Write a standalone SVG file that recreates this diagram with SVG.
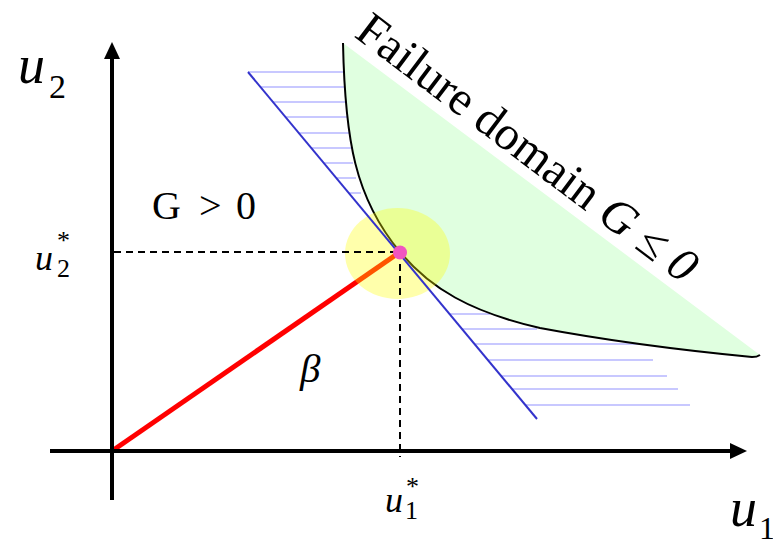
<svg xmlns="http://www.w3.org/2000/svg" width="773" height="541" viewBox="0 0 773 541">
<style>
.t{font-family:'Liberation Serif','Times New Roman',serif;fill:#000}
.i{font-style:italic}
.hatch{stroke:#c8c8ff;stroke-width:2}
.dash{stroke:#000;stroke-width:2;stroke-dasharray:7 5;fill:none}
.axis{stroke:#000;stroke-width:4}
</style>
<rect width="773" height="541" fill="#fff"/>
<g id="failure-domain">
<path d="M343,43 C345,140 355,198 400,252 C430,288 470,312 540,328 C620,343 700,352 752,357 Q757,357 760,355 Z" fill="#e0ffe0"/>
</g>
<g id="hatching">
<line class="hatch" x1="248" y1="72" x2="345" y2="72"/>
<line class="hatch" x1="260" y1="87" x2="345" y2="87"/>
<line class="hatch" x1="273" y1="102" x2="346" y2="102"/>
<line class="hatch" x1="285" y1="117" x2="347" y2="117"/>
<line class="hatch" x1="299" y1="133" x2="349" y2="133"/>
<line class="hatch" x1="311" y1="148" x2="351" y2="148"/>
<line class="hatch" x1="324" y1="163" x2="353" y2="163"/>
<line class="hatch" x1="336" y1="178" x2="356" y2="178"/>
<line class="hatch" x1="349" y1="193" x2="361" y2="193"/>
<line class="hatch" x1="449" y1="314" x2="490" y2="314"/>
<line class="hatch" x1="462" y1="329" x2="537" y2="329"/>
<line class="hatch" x1="475" y1="344" x2="640" y2="344"/>
<line class="hatch" x1="488" y1="360" x2="653" y2="360"/>
<line class="hatch" x1="501" y1="376" x2="667" y2="376"/>
<line class="hatch" x1="512" y1="389" x2="678" y2="389"/>
<line class="hatch" x1="525" y1="405" x2="690" y2="405"/>
</g>
<g id="limit-state-curve">
<path d="M343,43 C345,140 355,198 400,252 C430,288 470,312 540,328 C620,343 700,352 752,357 Q757,357 760,355" fill="none" stroke="#000" stroke-width="2"/>
</g>
<g id="connectors">
<line id="beta-line" x1="112" y1="451" x2="400" y2="252" stroke="#ff0000" stroke-width="5"/>
<ellipse id="design-point-region" cx="397.5" cy="253.5" rx="52.5" ry="45.5" fill="#ffff00" fill-opacity="0.33"/>
<line id="tangent-plane" x1="248" y1="72" x2="537" y2="419" stroke="#3333cc" stroke-width="2"/>
<line class="dash" x1="114" y1="252" x2="400" y2="252"/>
<line class="dash" x1="400" y1="252" x2="400" y2="457"/>
<line class="axis" x1="50" y1="451" x2="732" y2="451"/>
<polygon points="747,451 730,443 730,459" fill="#000"/>
<line class="axis" x1="112" y1="500" x2="112" y2="56"/>
<polygon points="112,42 104,59 120,59" fill="#000"/>
</g>
<g id="design-point">
<circle cx="400" cy="252.5" r="7" fill="#f055c0"/>
</g>
<g id="labels" font-family="'Liberation Serif', 'Times New Roman', serif">
<text class="t i" x="18" y="83" font-size="54">u</text>
<text class="t" x="49" y="98" font-size="34">2</text>
<text class="t i" x="730" y="526" font-size="54">u</text>
<text class="t" x="759" y="539" font-size="32">1</text>
<text class="t i" x="35" y="270" font-size="36">u</text>
<text class="t" x="57" y="277" font-size="26">2</text>
<text class="t" x="57" y="249" font-size="26">*</text>
<text class="t i" x="385" y="512" font-size="36">u</text>
<text class="t" x="405" y="519" font-size="26">1</text>
<text class="t" x="406" y="495" font-size="26">*</text>
<text class="t" y="219" font-size="40"><tspan x="152">G</tspan><tspan x="199">&gt;</tspan><tspan x="236">0</tspan></text>
<text class="t i" x="300" y="382" font-size="41">β</text>
<text class="t" x="353" y="36" font-size="48" transform="rotate(37 353 36)">Failure domain <tspan class="i">G ≤ 0</tspan></text>
</g>
</svg>
